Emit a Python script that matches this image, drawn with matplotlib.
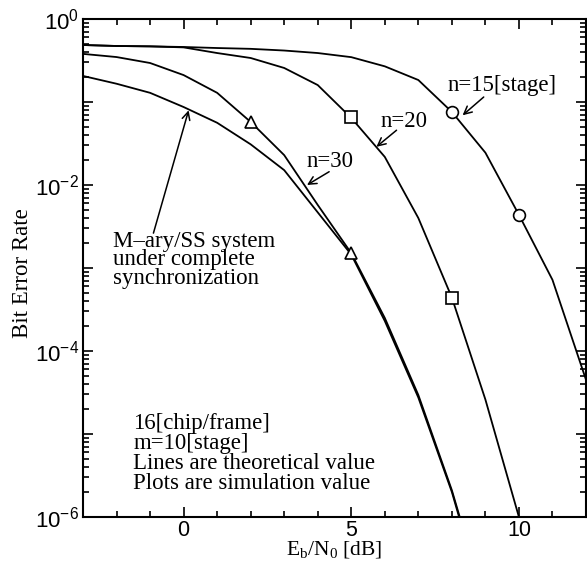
import numpy as np
import matplotlib
matplotlib.use("Agg")
import matplotlib.pyplot as plt
from matplotlib.ticker import LogLocator, FuncFormatter, MultipleLocator, NullFormatter

plt.rcParams['mathtext.fontset'] = 'custom'
plt.rcParams['mathtext.rm'] = 'Liberation Serif'
plt.rcParams['mathtext.it'] = 'Liberation Serif:italic'
plt.rcParams['mathtext.sf'] = 'Liberation Sans'

# ---- data ----
x_n15 = [-3, -2, -1, 0, 1, 2, 3, 4, 5, 6, 7, 8, 9, 10, 11, 12]
ber_n15 = [0.486, 0.473, 0.468, 0.460, 0.447, 0.437, 0.417, 0.389, 0.347,
           0.269, 0.184, 0.0759, 0.0245, 0.00437, 7.2e-4, 4.5e-5]

x_n20 = [-3, -2, -1, 0, 1, 2, 3, 4, 5, 6, 7, 8, 9, 10]
ber_n20 = [0.486, 0.473, 0.468, 0.455, 0.389, 0.339, 0.257, 0.160, 0.0643,
           0.0218, 0.0040, 4.4e-4, 2.6e-5, 1.0e-6]

x_n30 = [-3, -2, -1, 0, 1, 2, 3, 4, 5, 6, 7, 8, 9]
ber_n30 = [0.380, 0.348, 0.295, 0.211, 0.129, 0.0575, 0.0229, 0.00575,
           0.00151, 2.5e-4, 2.95e-5, 2.1e-6, 8.9e-8]

x_mary = [-3, -2, -1, 0, 1, 2, 3, 4, 5, 6, 7, 8, 9]
ber_mary = [0.206, 0.166, 0.129, 0.087, 0.0562, 0.0309, 0.0151, 0.00468,
            0.00145, 2.3e-4, 2.75e-5, 2.0e-6, 8.0e-8]

sim_n30_x = [2, 5]
sim_n30_y = [0.0575, 0.00151]
sim_n20_x = [5, 8]
sim_n20_y = [0.0655, 4.4e-4]
sim_n15_x = [8, 10]
sim_n15_y = [0.0759, 0.00437]

xlim = (-3, 12)
ylim = (1e-6, 1)
xticks_major = [0, 5, 10]
label_exponents = [0, -2, -4, -6]

notes = ["16[chip/frame]", "m=10[stage]",
         "Lines are theoretical value", "Plots are simulation value"]

# ---- figure ----
fig = plt.figure(figsize=(5.87, 5.62), dpi=100)
ax = fig.add_axes([83/587, 45/562, (586-83)/587, (517-19)/562])

lw = 1.3
ax.semilogy(x_n15, ber_n15, color='black', lw=lw)
ax.semilogy(x_n20, ber_n20, color='black', lw=lw)
ax.semilogy(x_n30, ber_n30, color='black', lw=lw)
ax.semilogy(x_mary, ber_mary, color='black', lw=lw)

mk = dict(linestyle='none', mfc='white', mec='black', mew=1.2, ms=8.5)
ax.semilogy(sim_n30_x, sim_n30_y, marker='^', **mk)
ax.semilogy(sim_n20_x, sim_n20_y, marker='s', **mk)
ax.semilogy(sim_n15_x, sim_n15_y, marker='o', **mk)

ax.set_xlim(*xlim)
ax.set_ylim(*ylim)

# ticks
ax.xaxis.set_major_locator(matplotlib.ticker.FixedLocator(xticks_major))
ax.xaxis.set_minor_locator(MultipleLocator(1))
ax.yaxis.set_major_locator(LogLocator(base=10, numticks=20))
ax.yaxis.set_minor_locator(LogLocator(base=10, subs=np.arange(2, 10), numticks=20))
ax.yaxis.set_minor_formatter(NullFormatter())

def yfmt(v, pos):
    e = int(round(np.log10(v)))
    if e in label_exponents:
        return r'$\mathsf{10^{%d}}$' % e
    return ''
ax.yaxis.set_major_formatter(FuncFormatter(yfmt))
ax.xaxis.set_major_formatter(FuncFormatter(lambda v, p: '%d' % v))

ax.tick_params(which='both', direction='in', top=True, right=True, width=1.2)
ax.tick_params(which='major', length=7, labelsize=16, pad=3)
ax.tick_params(which='minor', length=4.5)
ax.tick_params(axis='x', which='major', labelsize=15.5, pad=2)
for lab in ax.get_xticklabels():
    lab.set_family('Liberation Sans')
for s in ax.spines.values():
    s.set_linewidth(1.5)

serif = 'Liberation Serif'
fs = 16.5

ax.set_xlabel(r'E$_\mathrm{b}$/N$_0$ [dB]', family=serif, fontsize=15.5)
ax.set_ylabel('Bit Error Rate', family=serif, fontsize=fs)
ax.xaxis.set_label_coords(0.5, -0.044)
ax.yaxis.set_label_coords(-0.100, 0.49)

# annotations
arrow = dict(arrowstyle='->', color='black', lw=1.1, shrinkA=0, shrinkB=0,
             mutation_scale=14)
ax.annotate('', xy=(0.15, 10**-1.10), xytext=(-0.9, 10**-2.58), arrowprops=arrow)
ax.text(-2.1, 10**-2.55, "M\u2013ary/SS system\nunder complete\nsynchronization",
        family=serif, fontsize=fs, ha='left', va='top', linespacing=0.85)

ax.annotate('', xy=(3.68, 10**-2.0), xytext=(4.34, 10**-1.84), arrowprops=arrow)
ax.text(4.37, 10**-1.72, 'n=30', family=serif, fontsize=fs, ha='center', va='center')

ax.annotate('', xy=(5.75, 10**-1.54), xytext=(6.35, 10**-1.34), arrowprops=arrow)
ax.text(6.56, 10**-1.23, 'n=20', family=serif, fontsize=fs, ha='center', va='center')

ax.annotate('', xy=(8.32, 10**-1.16), xytext=(8.95, 10**-0.94), arrowprops=arrow)
ax.text(9.49, 10**-0.80, 'n=15[stage]', family=serif, fontsize=fs, ha='center', va='center')

for i, line in enumerate(notes):
    ax.text(-1.5, 10**(-4.75 - i * 20 / 83), line, family=serif, fontsize=fs,
            ha='left', va='top')

fig.savefig('out.png', dpi=100)
